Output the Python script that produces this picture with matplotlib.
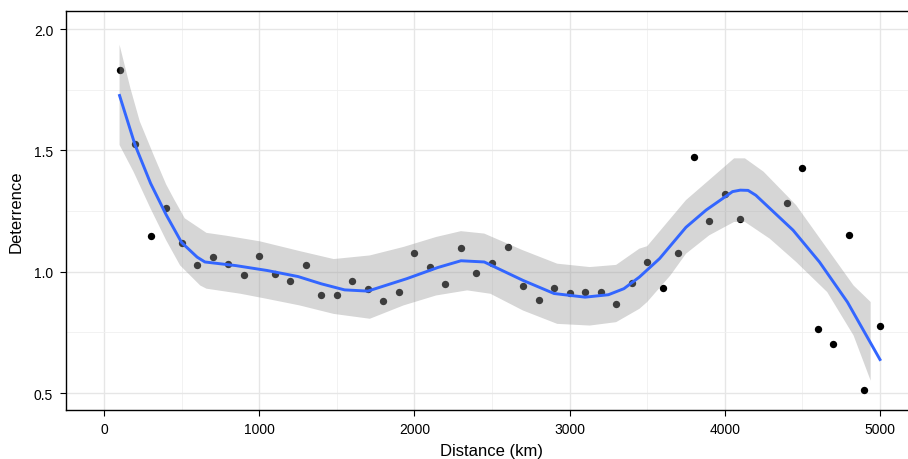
import numpy as np
import matplotlib
matplotlib.use("Agg")
import matplotlib.pyplot as plt
from matplotlib.ticker import MultipleLocator

plt.rcParams['font.family'] = ['Liberation Sans', 'DejaVu Sans']

# observed points
distance = [100, 200, 300, 400, 500, 600, 700, 800, 900, 1000,
            1100, 1200, 1300, 1400, 1500, 1600, 1700, 1800, 1900, 2000,
            2100, 2200, 2300, 2400, 2500, 2600, 2700, 2800, 2900, 3000,
            3100, 3200, 3300, 3400, 3500, 3600, 3700, 3800, 3900, 4000,
            4100, 4400, 4500, 4600, 4700, 4800, 4900, 5000]
deterrence = [1.83, 1.525, 1.149, 1.262, 1.118, 1.029, 1.062, 1.033, 0.988, 1.066,
              0.992, 0.963, 1.029, 0.905, 0.905, 0.963, 0.930, 0.880, 0.917, 1.079,
              1.021, 0.950, 1.099, 0.996, 1.037, 1.103, 0.942, 0.884, 0.934, 0.913,
              0.917, 0.917, 0.868, 0.955, 1.038, 0.933, 1.077, 1.472, 1.210, 1.321,
              1.216, 1.281, 1.427, 0.764, 0.700, 1.152, 0.512, 0.777]

# smooth line
smooth_x = [100, 200, 300, 400, 500, 600, 650, 850, 1050, 1250, 1400, 1550, 1700,
            1950, 2150, 2300, 2450, 2700, 2900, 3100, 3250, 3350, 3450, 3580,
            3750, 3880, 4050, 4100, 4150, 4200, 4440, 4610, 4790, 5000]
smooth_y = [1.726, 1.522, 1.364, 1.235, 1.12, 1.06, 1.04, 1.025, 1.005, 0.98, 0.95, 0.925, 0.92,
            0.971, 1.017, 1.045, 1.04, 0.964, 0.91, 0.895, 0.905, 0.93, 0.978, 1.054,
            1.183, 1.254, 1.33, 1.336, 1.335, 1.315, 1.171, 1.04, 0.875, 0.638]

# confidence band edges
upper_x = [100, 170, 230, 320, 400, 450, 520, 660, 790, 1005, 1260, 1480, 1713,
           1930, 2140, 2300, 2450, 2700, 2920, 3130, 3300, 3450, 3500, 3750,
           3900, 4060, 4130, 4250, 4460, 4660, 4830, 4940]
upper_y = [1.935, 1.756, 1.62, 1.48, 1.36, 1.30, 1.22, 1.16, 1.148, 1.125, 1.085, 1.052, 1.067,
           1.102, 1.143, 1.167, 1.157, 1.088, 1.033, 1.019, 1.028, 1.095, 1.105, 1.295,
           1.378, 1.467, 1.467, 1.412, 1.274, 1.095, 0.943, 0.875]
lower_x = [100, 190, 300, 400, 490, 620, 660, 880, 1050, 1260, 1480, 1713,
           1930, 2140, 2340, 2490, 2700, 2920, 3130, 3300, 3450, 3500, 3650, 3750,
           3900, 4060, 4130, 4290, 4460, 4660, 4830, 4940]
lower_y = [1.522, 1.412, 1.26, 1.13, 1.026, 0.943, 0.93, 0.909, 0.888, 0.861, 0.826, 0.806,
           0.861, 0.902, 0.923, 0.909, 0.84, 0.785, 0.778, 0.792, 0.847, 0.875, 0.985, 1.074,
           1.15, 1.205, 1.205, 1.136, 1.04, 0.916, 0.737, 0.551]

fig = plt.figure(figsize=(9.08, 4.6), dpi=100)
# panel runs slightly past the right edge of the picture, like the original
ax = fig.add_axes([65.7 / 908, 49 / 460, 852.6 / 908, 398.7 / 460])

ax.scatter(distance, deterrence, s=28, color='black', zorder=2, linewidths=0)
band_x = np.concatenate([upper_x, lower_x[::-1]])
band_y = np.concatenate([upper_y, lower_y[::-1]])
ax.fill(band_x, band_y, color='#999999', alpha=0.4, lw=0, zorder=3)
ax.plot(smooth_x, smooth_y, color='#3366FF', lw=2.1, zorder=4)

ax.set_xlim(-247, 5247)
ax.set_ylim(0.43, 2.073)
ax.xaxis.set_major_locator(MultipleLocator(1000))
ax.xaxis.set_minor_locator(MultipleLocator(500))
ax.yaxis.set_major_locator(MultipleLocator(0.5))
ax.yaxis.set_minor_locator(MultipleLocator(0.25))
ax.yaxis.set_major_formatter(plt.FormatStrFormatter('%.1f'))

ax.grid(which='major', color='#E6E6E6', lw=1.0, zorder=0)
ax.grid(which='minor', color='#F0F0F0', lw=0.6, zorder=0)
ax.set_axisbelow(True)
for s in ax.spines.values():
    s.set_color('black')
    s.set_linewidth(1.0)
ax.spines['right'].set_visible(False)
ax.tick_params(which='major', length=4, width=0.8, colors='black', labelsize=10, pad=5)
ax.tick_params(which='minor', length=0)

ax.set_xlabel('Distance (km)', fontsize=12, labelpad=5)
ax.set_ylabel('Deterrence', fontsize=12, labelpad=7)

fig.savefig('out.png', dpi=100)
